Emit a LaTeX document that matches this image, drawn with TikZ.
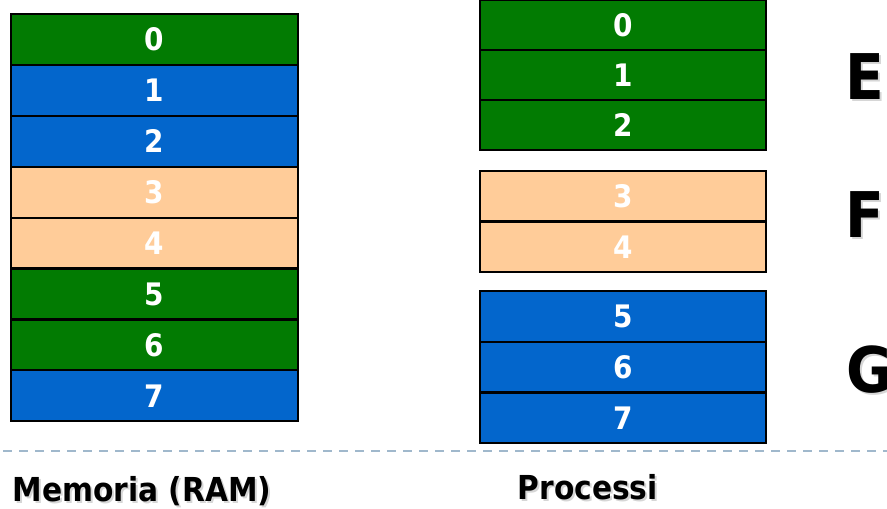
\documentclass[tikz,border=0pt]{standalone}
\usepackage{fontspec}
\setmainfont{DejaVu Sans}[FakeStretch=0.9]
\definecolor{cgreen}{RGB}{2,123,2}
\definecolor{cblue}{RGB}{3,102,204}
\definecolor{cpeach}{RGB}{255,204,153}
\definecolor{cdash}{RGB}{160,184,204}
\begin{document}
\begin{tikzpicture}[x=1pt,y=-1pt,
  cell/.style={draw=black, line width=2.2pt, minimum width=287pt, inner sep=0pt,
    text=white, font=\fontsize{31}{31}\selectfont\bfseries},
  grn/.style={cell, fill=cgreen},
  blu/.style={cell, fill=cblue},
  pch/.style={cell, fill=cpeach},
  lab/.style={inner sep=0pt, anchor=base west, font=\fontsize{33}{33}\selectfont\bfseries},
  big/.style={inner sep=0pt, anchor=base west, font=\fontsize{63}{63}\selectfont\bfseries},
  shd/.style={text=black!16}]
\useasboundingbox (0,0) rectangle (887,509);
% left column: memory
\node[grn, minimum height=50.9pt] (L0) at (154.5,39.45) {0};
\node[blu, minimum height=50.9pt] (L1) at (154.5,90.35) {1};
\node[blu, minimum height=50.9pt] (L2) at (154.5,141.25) {2};
\node[pch, minimum height=50.9pt] (L3) at (154.5,192.15) {3};
\node[pch, minimum height=50.9pt] (L4) at (154.5,243.05) {4};
\node[grn, minimum height=50.9pt] (L5) at (154.5,293.95) {5};
\node[grn, minimum height=50.9pt] (L6) at (154.5,344.85) {6};
\node[blu, minimum height=50.9pt] (L7) at (154.5,395.75) {7};
% right column: processes
\node[grn, minimum height=50pt, minimum width=286pt] (R0) at (623,25) {0};
\node[grn, minimum height=50pt, minimum width=286pt] (R1) at (623,75) {1};
\node[grn, minimum height=50pt, minimum width=286pt] (R2) at (623,125) {2};
\node[pch, minimum height=50.5pt, minimum width=286pt] (R3) at (623,196.25) {3};
\node[pch, minimum height=50.5pt, minimum width=286pt] (R4) at (623,246.75) {4};
\node[blu, minimum height=50.7pt, minimum width=286pt] (R5) at (623,316.35) {5};
\node[blu, minimum height=50.7pt, minimum width=286pt] (R6) at (623,367.05) {6};
\node[blu, minimum height=50.7pt, minimum width=286pt] (R7) at (623,417.75) {7};
% process letters
\node[big, shd] (Es) at (847,101) {E};
\node[big] (E) at (845,99) {E};
\node[big, shd] (Fs) at (847,239) {F};
\node[big] (F) at (845,237) {F};
\node[big, shd] (Gs) at (848.5,394) {G};
\node[big] (G) at (846.5,392) {G};
% separator
\coordinate (d0) at (3,451);
\coordinate (d1) at (887,451);
\draw[cdash, line width=2pt, dash pattern=on 9pt off 7pt] (d0) -- (d1);
% captions
\node[lab, shd] (Ms) at (14.5,503) {Memoria (RAM)};
\node[lab] (M) at (12.5,501) {Memoria (RAM)};
\node[lab, shd] (Ps) at (519.5,501) {Processi};
\node[lab] (P) at (517.5,499) {Processi};
\end{tikzpicture}
\end{document}
